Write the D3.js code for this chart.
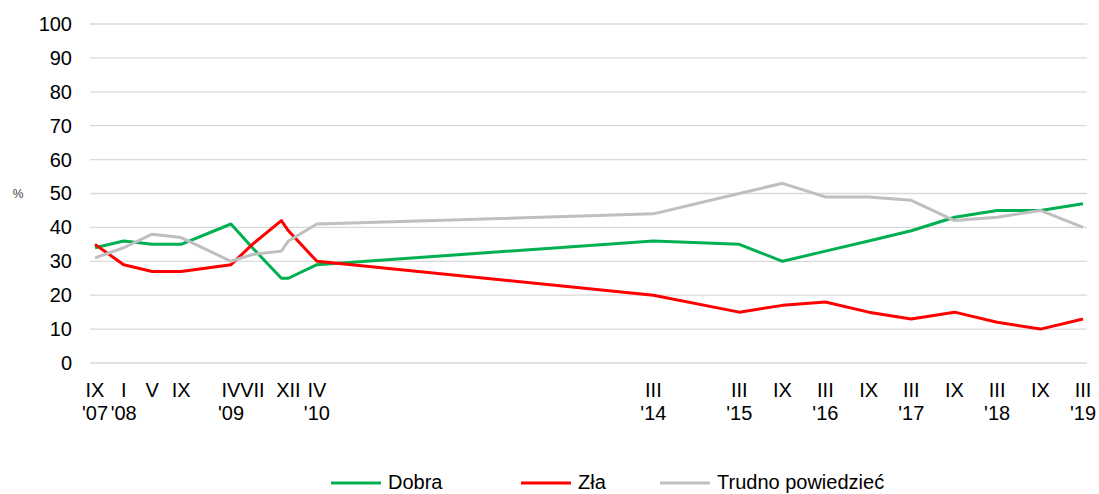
<!DOCTYPE html>
<html>
<head>
<meta charset="utf-8">
<script src="https://cdn.jsdelivr.net/npm/d3@7"></script>
<style>
  html, body { margin: 0; padding: 0; background: #fff; }
  svg { display: block; font-family: "Liberation Sans", Arial, sans-serif; }
</style>
</head>
<body>
<svg id="chart" width="1099" height="494"></svg>
<script>
// ---- data ----
const dates = ["2007-09","2008-01","2008-05","2008-09","2009-04","2009-07","2009-11","2009-12","2010-04",
               "2014-03","2015-03","2015-09","2016-03","2016-09","2017-03","2017-09","2018-03","2018-09","2019-03"];
const dobra  = [34, 36, 35, 35, 41, 34, 25, 25, 29, 36, 35, 30, 33, 36, 39, 43, 45, 45, 47];
const zla    = [35, 29, 27, 27, 29, 35, 42, 39, 30, 20, 15, 17, 18, 15, 13, 15, 12, 10, 13];
const trudno = [31, 34, 38, 37, 30, 32, 33, 36, 41, 44, 50, 53, 49, 49, 48, 42, 43, 45, 40];

const tickDates  = ["2007-09","2008-01","2008-05","2008-09","2009-04","2009-07","2009-12","2010-04",
                    "2014-03","2015-03","2015-09","2016-03","2016-09","2017-03","2017-09","2018-03","2018-09","2019-03"];
const tickMonths = ["IX","I","V","IX","IV","VII","XII","IV","III","III","IX","III","IX","III","IX","III","IX","III"];
const tickYears  = ["'07","'08","","","'09","","","'10","'14","'15","","'16","","'17","","'18","","'19"];
const yTicks = [0,10,20,30,40,50,60,70,80,90,100];

const seriesNames  = ["Dobra", "Zła", "Trudno powiedzieć"];
const seriesColors = ["#00B050", "#FF0000", "#BFBFBF"];
const seriesValues = [dobra, zla, trudno];

// ---- drawing ----
const parse = d3.timeParse("%Y-%m");
const svg = d3.select("#chart");

const x = d3.scaleTime()
  .domain([parse("2007-09"), parse("2019-03")])
  .range([95, 1083]);
const y = d3.scaleLinear().domain([0, 100]).range([363, 24]);

// gridlines
svg.append("g").selectAll("line").data(yTicks).join("line")
  .attr("x1", 90).attr("x2", 1087)
  .attr("y1", d => y(d)).attr("y2", d => y(d))
  .attr("stroke", "#D9D9D9").attr("stroke-width", 1.3);

// y axis labels
const yAxis = d3.axisLeft(y).tickValues(yTicks).tickSize(0).tickPadding(0);
const yg = svg.append("g").attr("transform", "translate(72,0)").call(yAxis);
yg.select(".domain").remove();
yg.selectAll("text").attr("font-size", 20).attr("fill", "#000")
  .attr("font-family", "Liberation Sans, Arial, sans-serif");

svg.append("text").attr("x", 18).attr("y", y(50) + 4)
  .attr("text-anchor", "middle").attr("font-size", 12).attr("fill", "#404040").text("%");

// x labels (two rows)
const xg = svg.append("g");
const tickData = tickDates.map((d, i) => ({ date: parse(d), m: tickMonths[i], yr: tickYears[i] }));
xg.selectAll("text.m").data(tickData).join("text")
  .attr("class", "m")
  .attr("x", d => x(d.date)).attr("y", 397)
  .attr("text-anchor", "middle").attr("font-size", 20).attr("fill", "#000")
  .text(d => d.m);
xg.selectAll("text.yr").data(tickData.filter(d => d.yr)).join("text")
  .attr("class", "yr")
  .attr("x", d => x(d.date)).attr("y", 420)
  .attr("text-anchor", "middle").attr("font-size", 20).attr("fill", "#000")
  .text(d => d.yr);

// lines
const line = d3.line().x(d => x(d.date)).y(d => y(d.v));
seriesValues.forEach((vals, si) => {
  const pts = dates.map((d, i) => ({ date: parse(d), v: vals[i] }));
  svg.append("path").datum(pts)
    .attr("fill", "none")
    .attr("stroke", seriesColors[si])
    .attr("stroke-width", 3)
    .attr("stroke-linejoin", "round")
    .attr("d", line);
});

// legend
const legendX = [331, 521, 660];
const lg = svg.append("g");
seriesNames.forEach((n, i) => {
  lg.append("line").attr("x1", legendX[i]).attr("x2", legendX[i] + 50)
    .attr("y1", 483).attr("y2", 483)
    .attr("stroke", seriesColors[i]).attr("stroke-width", 3);
  lg.append("text").attr("x", legendX[i] + 57).attr("y", 489)
    .attr("font-size", 20).attr("fill", "#000").text(n);
});
</script>
</body>
</html>
